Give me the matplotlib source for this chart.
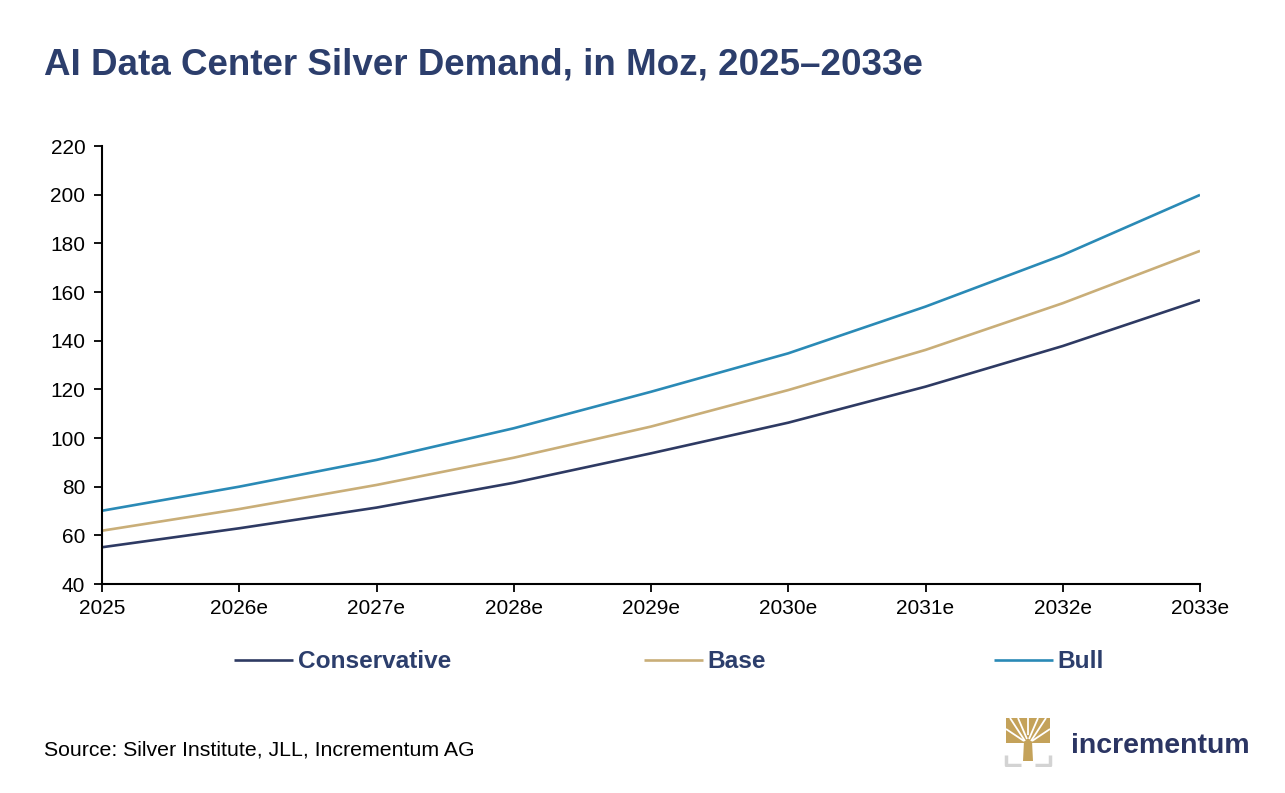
import matplotlib
matplotlib.use("Agg")
import matplotlib.pyplot as plt
from matplotlib.patches import Polygon, Rectangle

plt.rcParams['font.family'] = ['Liberation Sans', 'DejaVu Sans']

years = ["2025", "2026e", "2027e", "2028e", "2029e", "2030e", "2031e", "2032e", "2033e"]
conservative = [55.1, 62.9, 71.4, 81.6, 93.7, 106.3, 121.1, 137.8, 156.7]
base = [61.9, 70.8, 80.7, 91.9, 104.7, 119.7, 136.2, 155.4, 176.9]
bull = [70.1, 80.0, 91.0, 104.0, 119.0, 134.8, 154.0, 175.2, 199.9]
series_names = ["Conservative", "Base", "Bull"]
yticks = [40, 60, 80, 100, 120, 140, 160, 180, 200, 220]

colors = {"Conservative": "#2E3A63", "Base": "#C9AE78", "Bull": "#2A8AB6"}
navy = "#2C3E6C"

W, H = 1285, 793
fig = plt.figure(figsize=(W / 100, H / 100), dpi=100)
fig.patch.set_facecolor("white")

ax = fig.add_axes([102 / W, 1 - 584 / H, (1200 - 102) / W, (584 - 146) / H])
x = list(range(len(years)))
data = {"Conservative": conservative, "Base": base, "Bull": bull}
lines = {}
for name in series_names:
    (ln,) = ax.plot(x, data[name], color=colors[name], lw=1.9, solid_capstyle="butt")
    lines[name] = ln

ax.set_xlim(0, len(years) - 1)
ax.set_ylim(40, 220)
ax.set_xticks(x)
ax.set_xticklabels(years)
ax.set_yticks(yticks)
ax.tick_params(axis="both", direction="out", length=6, width=1.3, labelsize=15,
               colors="black")
ax.tick_params(axis="y", pad=6)
ax.tick_params(axis="x", pad=5)
for s in ["top", "right"]:
    ax.spines[s].set_visible(False)
for s in ["left", "bottom"]:
    ax.spines[s].set_linewidth(1.5)
    ax.spines[s].set_color("black")

# Title
fig.text(44 / W, 1 - 75 / H, "AI Data Center Silver Demand, in Moz, 2025\u20132033e",
         fontsize=26.5, fontweight="bold", color=navy, ha="left", va="baseline")

# Legend: three single-entry legends at the reference positions
leg_x = [234, 644, 994]
for name, lx in zip(series_names, leg_x):
    leg = fig.legend([lines[name]], [name], loc="center left",
                     bbox_to_anchor=(lx / W, 1 - 662 / H), frameon=False,
                     handlelength=2.4, handletextpad=0.2, borderaxespad=0,
                     borderpad=0, prop={"size": 17.6, "weight": "bold"})
    for t in leg.get_texts():
        t.set_color(navy)

# Source
fig.text(44 / W, 1 - 756 / H, "Source: Silver Institute, JLL, Incrementum AG",
         fontsize=15.3, color="black", ha="left", va="baseline")

# Logo
lax = fig.add_axes([1003 / W, 1 - 767 / H, 50 / W, 52 / H])
lax.set_xlim(0, 50)
lax.set_ylim(0, 52)
lax.axis("off")
gold = "#C4A25A"
gray = "#D3D3D3"
lax.add_patch(Rectangle((3, 24), 44, 25, color=gold, lw=0))
lax.add_patch(Polygon([[20, 6], [30, 6], [29, 26], [21, 26]], closed=True, color=gold, lw=0))
for (x0, y0, x1, y1) in [
    (22, 26, 7, 49), (24, 28, 15, 49), (26, 28, 35, 49), (28, 26, 43, 49),
    (21, 26, 3, 38), (29, 26, 47, 38), (25, 32, 25, 49)]:
    lax.plot([x0, x1], [y0, y1], color="white", lw=1.3, solid_capstyle="butt")
lax.plot([3, 3, 18], [12, 2, 2], color=gray, lw=2.5, solid_capstyle="butt")
lax.plot([32, 47, 47], [2, 2, 12], color=gray, lw=2.5, solid_capstyle="butt")

fig.text(1071 / W, 1 - 753 / H, "incrementum", fontsize=20.5, fontweight="bold",
         color="#2B3563", ha="left", va="baseline")

fig.savefig("out.png", dpi=100, facecolor="white")
